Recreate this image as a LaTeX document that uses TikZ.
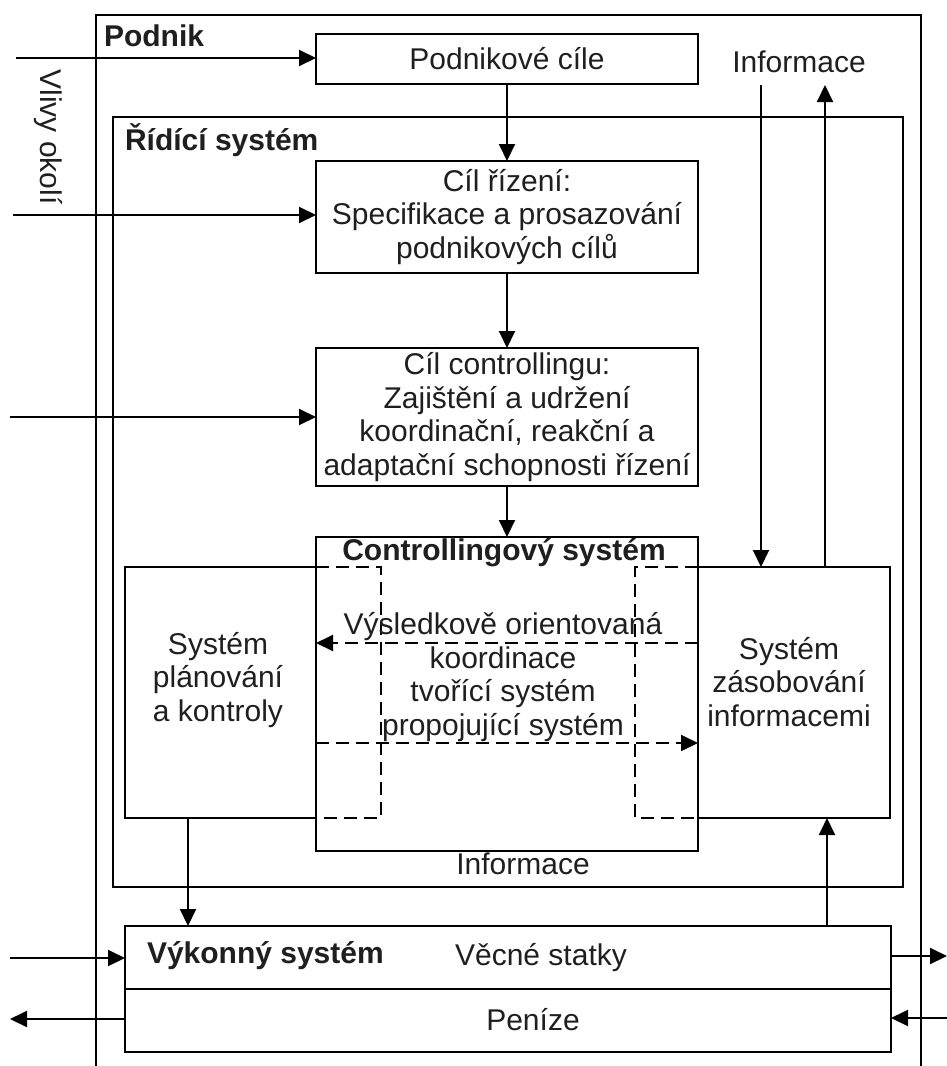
\documentclass[tikz,border=0pt]{standalone}
\usepackage{fontspec}
\setmainfont{Liberation Sans}
\usetikzlibrary{arrows.meta}
\begin{document}
\begin{tikzpicture}[x=1pt,y=-1pt,
  every node/.style={inner sep=0pt, outer sep=0pt, align=center,
    font=\fontsize{30}{33.5}\selectfont, text=black!88},
  box/.style={draw, line width=2pt},
  line/.style={line width=2pt},
  dline/.style={line width=2pt, dash pattern=on 13pt off 7pt},
  arr/.style={line width=2pt, -{Triangle[length=17pt,width=16pt]}},
  darr/.style={arr, dash pattern=on 13pt off 7pt},
  title/.style={font=\fontsize{30}{33.5}\selectfont\bfseries}
]
\useasboundingbox (0,0) rectangle (947,1066);

% enterprise frame, open at the bottom
\draw[line] (96,1070) -- (96,15) -- (921,15) -- (921,1070);
\node[title, anchor=west] (plab) at (104,36) {Podnik};
\node[rotate=-90] (vliv) at (48,137) {Vlivy okolí};

% goals
\node[box, minimum width=382pt, minimum height=50pt] (pc) at (507,59) {Podnikové cíle};

% management system
\node[box, minimum width=790pt, minimum height=770pt] (rs) at (508,502) {};
\node[title, anchor=west] (rslab) at (125,140) {Řídící systém};

\node[box, minimum width=382pt, minimum height=112pt] (cr) at (507,217)
  {Cíl řízení:\\Specifikace a prosazování\\podnikových cílů};
\node[box, minimum width=382pt, minimum height=138pt] (cc) at (507,417)
  {Cíl controllingu:\\Zajištění a udržení\\koordinační, reakční a\\adaptační schopnosti řízení};

% controlling system
\node[box, minimum width=382pt, minimum height=314pt] (ctrl) at (507,694) {};
\node[title] (ctrllab) at (504,553) {Controllingový systém};

% planning and information subsystems (dashed where they overlap)
\node[minimum width=256pt, minimum height=251pt] (plan) at (253,692.5) {};
\node[minimum width=255pt, minimum height=251pt] (zas) at (762.5,692.5) {};
\draw[line] (ctrl.west |- plan.north) -- (plan.north west) -- (plan.south west) -- (ctrl.west |- plan.south);
\draw[dline] (ctrl.west |- plan.north) -- (plan.north east) -- (plan.south east) -- (ctrl.west |- plan.south);
\draw[line] (ctrl.east |- zas.north) -- (zas.north east) -- (zas.south east) -- (ctrl.east |- zas.south);
\draw[dline] (ctrl.east |- zas.north) -- (zas.north west) -- (zas.south west) -- (ctrl.east |- zas.south);

\node (plantxt) at (218,680) {Systém\\plánování\\a kontroly};
\node (zastxt) at (789,682) {Systém\\zásobování\\informacemi};
\node (koord) at (503,677) {Výsledkově orientovaná\\koordinace\\tvořící systém\\propojující systém};

\node (info1) at (799,62) {Informace};
\node (info2) at (523,864) {Informace};

% operating system
\node[box, minimum width=766pt, minimum height=126pt] (vyk) at (508,989) {};
\draw[line] (vyk.west) -- (vyk.east);
\node[title, anchor=west] (vyklab) at (147,956) {Výkonný systém};
\node (vec) at (541,958) {Věcné statky};
\node (pen) at (533,1020) {Peníze};

% environment influences
\coordinate (e1) at (16,58);
\coordinate (e2) at (13,215);
\coordinate (e3) at (10,417);
\draw[arr] (e1) -- (e1 -| pc.west);
\draw[arr] (e2) -- (e2 -| cr.west);
\draw[arr] (e3) -- (e3 -| cc.west);

% goal chain
\draw[arr] (pc.south) -- (cr.north);
\draw[arr] (cr.south) -- (cc.north);
\draw[arr] (cc.south) -- (ctrl.north);

% information flows
\coordinate (idn) at (761,85);
\coordinate (iup) at (825,85);
\draw[arr] (idn) -- (idn |- zas.north);
\draw[arr] (iup |- zas.north) -- (iup);
\coordinate (pv) at (188,0);
\coordinate (vz) at (827,0);
\draw[arr] (pv |- plan.south) -- (pv |- vyk.north);
\draw[arr] (vz |- vyk.north) -- (vz |- zas.south);

% coordination inside the controlling system
\coordinate (d1) at (0,643);
\coordinate (d2) at (0,743);
\draw[darr] (d1 -| ctrl.east) -- (d1 -| ctrl.west);
\draw[darr] (d2 -| ctrl.west) -- (d2 -| ctrl.east);

% goods and money flows
\coordinate (o1) at (947,956);
\coordinate (o2) at (947,1018);
\coordinate (w1) at (10,958);
\coordinate (w2) at (10,1019);
\draw[arr] (o1 -| vyk.east) -- (o1);
\draw[arr] (o2) -- (o2 -| vyk.east);
\draw[arr] (w1) -- (w1 -| vyk.west);
\draw[arr] (w2 -| vyk.west) -- (w2);
\end{tikzpicture}
\end{document}
